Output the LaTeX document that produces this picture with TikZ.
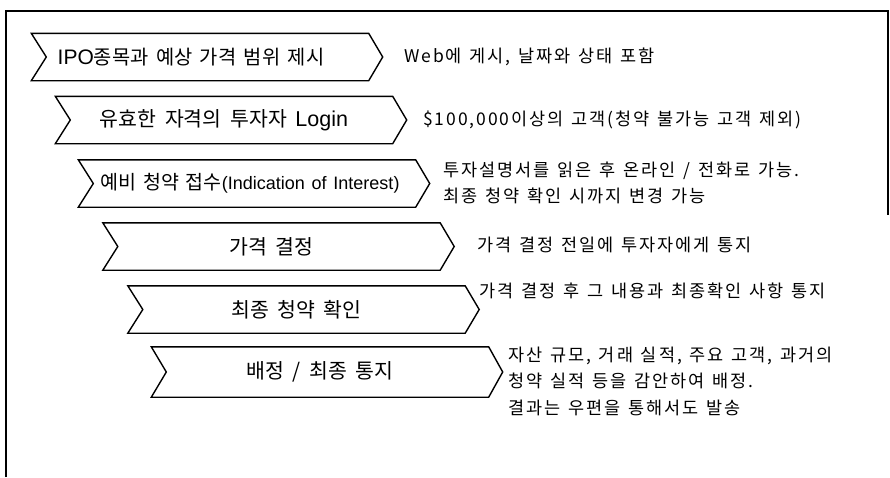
\documentclass[tikz,border=0pt]{standalone}
\usepackage{fontspec}
\setmainfont{Noto Sans CJK KR}
\newfontfamily\kr{Noto Sans CJK KR}
\newfontfamily\krd[LetterSpace=11]{Noto Sans CJK KR}
\newfontfamily\lat{Liberation Sans}
\newcommand\drawchev[1]{%
  \draw[chev] (#1.north west) -- (#1.north east) -- ([xshift=14pt]#1.east)
    -- (#1.south east) -- (#1.south west) -- ([xshift=15pt]#1.west) -- cycle;}
\tikzset{
  frame/.style={line width=1.4pt, black},
  chev/.style={draw=black, line width=1.4pt, line join=miter},
  cbox/.style={minimum width=337pt, minimum height=47pt, inner sep=0pt,
    font={\kr\fontsize{20.5}{22}\selectfont\spaceskip=.42em\relax}},
  desc/.style={anchor=west, inner sep=0pt, align=left,
    font={\krd\fontsize{17.5}{26.5}\selectfont\spaceskip=.45em\relax}}
}
\begin{document}
\begin{tikzpicture}[x=1pt,y=-1pt]
\useasboundingbox (0,0) rectangle (890,477);
\draw[frame] (6,477) -- (6,11) -- (888,11) -- (888,215);

\node[cbox] (c1) at (200,57) {\fontsize{19.8}{22}\selectfont\spaceskip=.38em{\lat\fontsize{21}{22}\selectfont IPO}종목과 예상 가격 범위 제시\hspace*{18pt}};
\node[cbox] (c2) at (224,120) {유효한 자격의 투자자 {\lat\fontsize{21.5}{22}\selectfont Login}};
\node[cbox] (c3) at (247,183.5) {\hspace*{6pt}\fontsize{19.5}{22}\selectfont\spaceskip=.35em 예비 청약 접수{\lat\fontsize{18}{22}\selectfont (Indication of Interest)}};
\node[cbox] (c4) at (271.5,246.5) {가격 결정};
\node[cbox] (c5) at (296.5,309.5) {최종 청약 확인};
\node[cbox, minimum height=50pt] (c6) at (320,372) {배정 / 최종 통지};
\foreach \c in {c1,c2,c3,c4,c5,c6} {\drawchev{\c}}

\node[desc] (d1) at (404,57) {Web에 게시, 날짜와 상태 포함};
\node[desc] (d2) at (423,120) {\$100,000이상의 고객(청약 불가능 고객 제외)};
\node[desc] (d3) at (443,183) {투자설명서를 읽은 후 온라인 / 전화로 가능.\\최종 청약 확인 시까지 변경 가능};
\node[desc] (d4) at (477,245) {가격 결정 전일에 투자자에게 통지};
\node[desc] (d5) at (479,291) {가격 결정 후 그 내용과 최종확인 사항 통지};
\node[desc] (d6) at (508,381) {자산 규모, 거래 실적, 주요 고객, 과거의\\청약 실적 등을 감안하여 배정.\\결과는 우편을 통해서도 발송};
\end{tikzpicture}
\end{document}
